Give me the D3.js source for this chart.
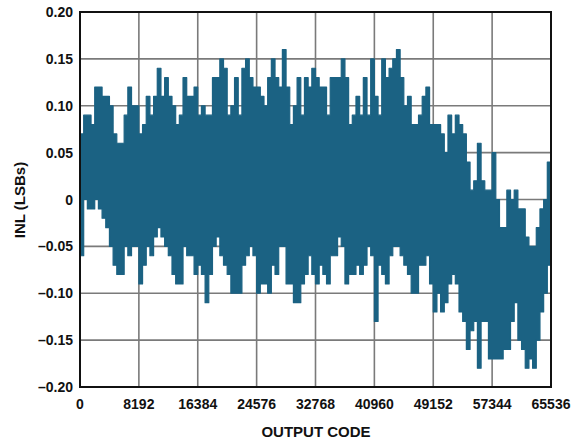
<!DOCTYPE html>
<html><head><meta charset="utf-8">
<script src="https://cdn.jsdelivr.net/npm/d3@7"></script>
<style>
html,body{margin:0;padding:0;background:#fff;}
svg text{font-family:"Liberation Sans",Arial,sans-serif;font-weight:bold;fill:#111;}
</style></head>
<body><svg id="c" width="573" height="443"></svg>
<script>
// Output-code bin size (codes per envelope sample)
const binSize = 512;
// Upper envelope of INL (LSBs) per bin
const inlMax = [
 0.07,0.09,0.09,0.08,0.12,0.12,0.11,0.11,0.10,0.07,0.06,0.06,0.09,0.12,0.10,0.10,0.07,0.08,0.11,0.09,0.11,0.14,0.11,0.13,0.11,0.10,
 0.08,0.09,0.13,0.11,0.11,0.12,0.09,0.10,0.09,0.09,0.13,0.13,0.15,0.14,0.09,0.10,0.13,0.09,0.14,0.15,0.13,0.12,0.12,0.11,0.10,
 0.13,0.15,0.13,0.12,0.16,0.12,0.08,0.10,0.13,0.09,0.13,0.12,0.14,0.13,0.12,0.12,0.09,0.13,0.13,0.13,0.15,0.13,0.08,0.09,0.11,0.09,
 0.13,0.09,0.15,0.11,0.09,0.15,0.13,0.14,0.15,0.16,0.13,0.10,0.11,0.08,0.08,0.09,0.11,0.12,0.08,0.08,0.08,0.07,0.05,0.09,0.07,
 0.09,0.08,0.07,0.04,0.01,0.02,0.06,0.02,0.01,0.01,0.05,0.00,-0.03,-0.03,0.01,0.00,0.01,-0.01,-0.01,-0.04,-0.05,-0.05,-0.03,-0.01,0.00,0.04
];
// Lower envelope of INL (LSBs) per bin
const inlMin = [
 -0.06,0.00,-0.01,-0.01,0.00,-0.01,-0.02,-0.03,-0.05,-0.07,-0.08,-0.08,-0.05,-0.06,-0.05,-0.05,-0.09,-0.07,-0.05,-0.06,-0.04,-0.03,-0.04,-0.05,-0.06,-0.08,
 -0.09,-0.09,-0.05,-0.06,-0.06,-0.08,-0.07,-0.08,-0.11,-0.08,-0.05,-0.04,-0.06,-0.07,-0.08,-0.10,-0.10,-0.10,-0.07,-0.06,-0.05,-0.06,-0.10,-0.09,-0.09,
 -0.10,-0.07,-0.08,-0.05,-0.05,-0.09,-0.09,-0.11,-0.11,-0.09,-0.08,-0.06,-0.08,-0.09,-0.07,-0.08,-0.09,-0.06,-0.06,-0.04,-0.05,-0.09,-0.08,-0.08,-0.07,-0.08,
 -0.07,-0.05,-0.06,-0.13,-0.07,-0.08,-0.09,-0.06,-0.05,-0.05,-0.06,-0.07,-0.08,-0.10,-0.10,-0.07,-0.07,-0.06,-0.09,-0.12,-0.10,-0.12,-0.11,-0.09,-0.08,
 -0.09,-0.12,-0.13,-0.16,-0.14,-0.13,-0.18,-0.13,-0.13,-0.17,-0.17,-0.17,-0.17,-0.16,-0.16,-0.13,-0.11,-0.15,-0.16,-0.18,-0.17,-0.18,-0.15,-0.12,-0.10,-0.07
];
const xTicks = [0,8192,16384,24576,32768,40960,49152,57344,65536];
const yTicks = [-0.20,-0.15,-0.10,-0.05,0,0.05,0.10,0.15,0.20];
const yTickLabels = ["\u20130.20","\u20130.15","\u20130.10","\u20130.05","0","0.05","0.10","0.15","0.20"];

const L=80,R=551,T=12,B=387;
const svg=d3.select("#c");
const x=d3.scaleLinear().domain([0,65536]).range([L,R]);
const y=d3.scaleLinear().domain([-0.2,0.2]).range([B,T]);

// grid
const g=svg.append("g");
g.selectAll("line.v").data(xTicks.slice(1,-1)).join("line")
 .attr("x1",d=>x(d)).attr("x2",d=>x(d)).attr("y1",T).attr("y2",B)
 .attr("stroke","#7a7a7a").attr("stroke-width",1.6);
g.selectAll("line.h").data(yTicks.slice(1,-1)).join("line")
 .attr("y1",d=>y(d)).attr("y2",d=>y(d)).attr("x1",L).attr("x2",R)
 .attr("stroke","#7a7a7a").attr("stroke-width",1.6);

// data
const pts=inlMax.map((v,i)=>({c:i*binSize,hi:v,lo:inlMin[i]}));
pts.push({c:65536,hi:inlMax[inlMax.length-1],lo:inlMin[inlMin.length-1]});
const area=d3.area().x(d=>x(d.c)).y0(d=>y(d.lo)).y1(d=>y(d.hi)).curve(d3.curveStepAfter);
svg.append("path").datum(pts).attr("d",area)
 .attr("fill","#1b6283").attr("stroke","#1b6283").attr("stroke-width",1.2).attr("stroke-linejoin","round");

// frame
svg.append("rect").attr("x",L).attr("y",T).attr("width",R-L).attr("height",B-T)
 .attr("fill","none").attr("stroke","#111").attr("stroke-width",2);

// y labels
svg.selectAll("text.yl").data(yTicks).join("text")
 .attr("x",L-7).attr("y",d=>y(d)).attr("dy","0.36em").attr("text-anchor","end")
 .attr("font-size",14).text((d,i)=>yTickLabels[i]);
// x labels
svg.selectAll("text.xl").data(xTicks).join("text")
 .attr("x",d=>x(d)).attr("y",409).attr("text-anchor","middle")
 .attr("font-size",14).text(d=>d);
// titles
svg.append("text").attr("x",316).attr("y",437).attr("text-anchor","middle")
 .attr("font-size",15).text("OUTPUT CODE");
svg.append("text").attr("transform","translate(25,200) rotate(-90)").attr("text-anchor","middle")
 .attr("font-size",15).text("INL (LSBs)");
</script></body></html>
